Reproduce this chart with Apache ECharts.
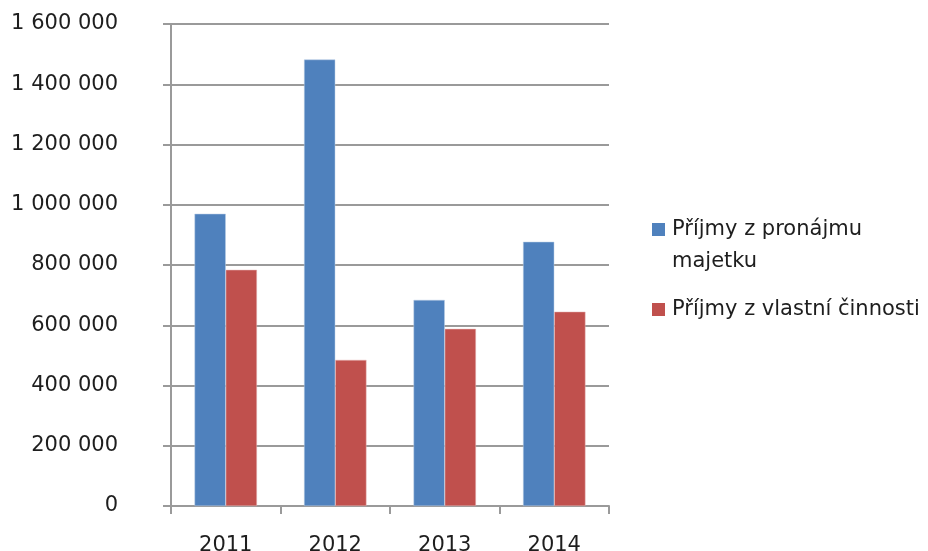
<!DOCTYPE html>
<html><head><meta charset="utf-8">
<script src="https://cdn.jsdelivr.net/npm/echarts@6/dist/echarts.min.js"></script>
<style>html,body{margin:0;padding:0;background:#fff}#c{width:928px;height:551px}</style>
</head><body><div id="c"></div>
<script>
const categories = ['2011', '2012', '2013', '2014'];
const seriesNames = ['Příjmy z pronájmu majetku', 'Příjmy z vlastní činnosti'];
const legendLabels = ['Příjmy z pronájmu\nmajetku', 'Příjmy z vlastní činnosti'];
const rentalIncome = [970000, 1482000, 684000, 877000];
const ownActivityIncome = [784000, 485000, 588000, 645000];
const yTicks = [0, 200000, 400000, 600000, 800000, 1000000, 1200000, 1400000, 1600000];

const FONT = 'DejaVu Sans';
const FS = 21;
const TXT = '#1e1e1e';
const GRIDC = '#9a9a9a';
const fmt = v => String(v).replace(/\B(?=(\d{3})+(?!\d))/g, ' ');
const richLegend = {t: {fontFamily: FONT, fontSize: FS, color: TXT, lineHeight: 32, padding: [0, 0, 0, 2]}};

const chart = echarts.init(document.getElementById('c'));
chart.setOption({
  animation: false,
  backgroundColor: '#fff',
  grid: {left: 171, right: 319, top: 24, bottom: 45, containLabel: false, outerBoundsMode: 'none'},
  xAxis: {
    type: 'category', data: categories,
    axisLine: {lineStyle: {color: GRIDC, width: 2}},
    axisTick: {show: true, length: 8, lineStyle: {color: GRIDC, width: 2}},
    axisLabel: {fontFamily: FONT, fontSize: FS, color: TXT, margin: 29}
  },
  yAxis: {
    type: 'value', min: yTicks[0], max: yTicks[yTicks.length - 1], interval: yTicks[1] - yTicks[0],
    axisLine: {show: true, lineStyle: {color: GRIDC, width: 2}},
    axisTick: {show: true, length: 8, lineStyle: {color: GRIDC, width: 2}},
    splitLine: {lineStyle: {color: GRIDC, width: 2}},
    axisLabel: {fontFamily: FONT, fontSize: FS, color: TXT, margin: 53, formatter: fmt}
  },
  legend: [
    {data: [seriesNames[0]], orient: 'vertical', left: 652, top: 187, padding: 0, itemWidth: 13, itemHeight: 13,
     icon: 'rect', itemStyle: {borderWidth: 0},
     formatter: () => '{t|}\n{t|' + legendLabels[0].split('\n').join('}\n{t|') + '}',
     textStyle: {rich: richLegend}},
    {data: [seriesNames[1]], orient: 'vertical', left: 652, top: 299, padding: 0, itemWidth: 13, itemHeight: 13,
     icon: 'rect', itemStyle: {borderWidth: 0},
     formatter: () => '{t|' + legendLabels[1] + '}',
     textStyle: {rich: richLegend}}
  ],
  series: [
    {name: seriesNames[0], type: 'bar', data: rentalIncome, barGap: '0%', barCategoryGap: '43%',
     itemStyle: {color: '#4F81BD', borderColor: '#B9CDE5', borderWidth: 0.5}},
    {name: seriesNames[1], type: 'bar', data: ownActivityIncome, barGap: '0%', barCategoryGap: '43%',
     itemStyle: {color: '#C0504D', borderColor: '#E6B9B8', borderWidth: 0.5}}
  ]
});
</script></body></html>
